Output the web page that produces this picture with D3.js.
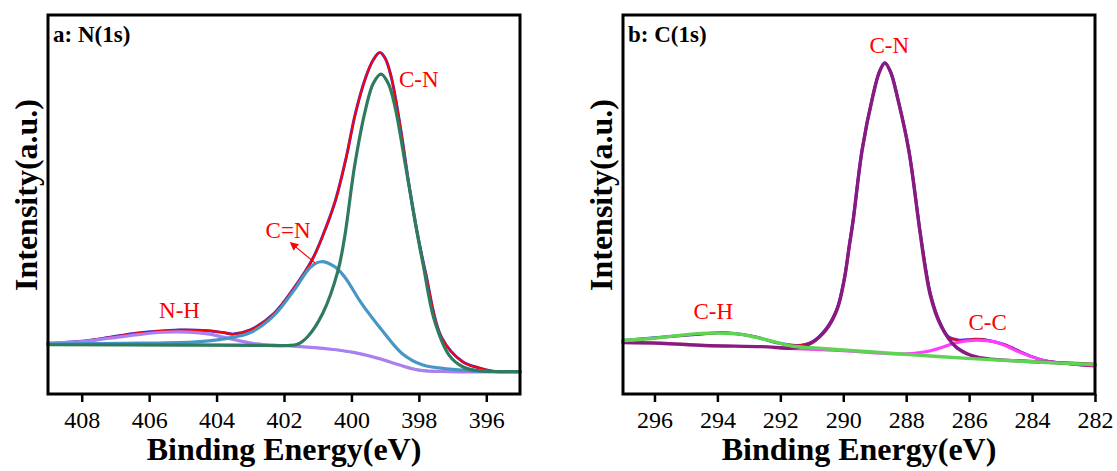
<!DOCTYPE html>
<html>
  <head>
    <meta charset="utf-8">
    <title>XPS N(1s) and C(1s)</title>
    <script src="https://cdn.jsdelivr.net/npm/d3@7"></script>
    <style>
      body { margin: 0; background: #fff; }
      svg { display: block; font-family: "Liberation Serif", "Times New Roman", serif; }
      .frame { fill: none; stroke: #000; stroke-width: 3; }
      .axis path { display: none; }
      .axis line { stroke: #000; stroke-width: 2.5; }
      .axis text { font-size: 24px; fill: #000; font-family: "Liberation Serif", serif; }
      .title { font-size: 32px; font-weight: bold; fill: #000; }
      .panelLabel { font-size: 23px; font-weight: bold; fill: #000; }
      .peakLabel { font-size: 23px; fill: #ff0000; }
      .curve { fill: none; stroke-linejoin: round; stroke-linecap: round; }
    </style>
  </head>

  <body>
    <svg id="chart" width="1117" height="471"></svg>

    <script>
      // ---- panel a: N(1s), points read as [binding energy, intensity]
      ticksA = [408, 406, 404, 402, 400, 398, 396];

      bgA = [[409, 13.3], [407, 13.2], [405, 13.1], [403, 13.0], [402, 12.8], [401.5, 12.5],
        [401, 12.1], [400.6, 11.8], [400, 11.0], [399.5, 10.1], [399.2, 9.4], [398.6, 7.7],
        [398, 6.4], [397.5, 6.0], [397, 5.9], [395, 5.9]];

      nhA = [[409, 13.4], [408, 13.8], [407.2, 14.7], [406.2, 15.8], [405.6, 16.3], [405.1, 16.4],
        [404.6, 16.2], [404.2, 15.8], [403.8, 15.0], [403.4, 14.2], [402.9, 13.3], [402.3, 12.9],
        [401.5, 12.5], [400.6, 11.8], [399.9, 10.9], [399.2, 9.4], [398.6, 7.7], [398, 6.3],
        [397.1, 5.9], [395, 5.9]];

      cnDoubleA = [[409, 13.2], [406.2, 13.4], [404.5, 13.8], [403.5, 15.0], [403, 16.2],
        [402.3, 20.7], [401.7, 27.4], [401.2, 33.6], [400.9, 34.9], [400.5, 33.6], [400.2, 30.9],
        [399.7, 23.9], [399.1, 16.9], [398.5, 10.7], [397.9, 7.7], [397, 6.5], [396, 6.0], [395, 5.9]];

      cnA = [[409, 13.0], [405, 12.9], [402.5, 12.8], [401.9, 12.8], [401.6, 13.1], [401.3, 15.1],
        [400.85, 21.3], [400.4, 32.5], [400.2, 41.5], [399.9, 60.5], [399.57, 75.5], [399.35, 82.0],
        [399.12, 84.4], [398.9, 81.8], [398.7, 75.5], [398.4, 60.5], [398.07, 43.5], [397.86, 33.5],
        [397.54, 19.5], [397.1, 10.2], [396.7, 7.2], [396.3, 6.2], [395.5, 5.9], [395, 5.9]];

      envA = [[409, 13.3], [408, 13.9], [407.2, 14.9], [406.5, 15.9], [405.95, 16.4], [405.1, 16.9],
        [404.25, 16.7], [403.8, 16.2], [403.5, 15.8], [403, 16.9], [402.3, 21.2], [401.7, 28.0],
        [401.16, 35.5], [400.84, 42.0], [400.47, 51.2], [400.15, 62.6], [399.88, 74.1],
        [399.57, 83.7], [399.35, 88.2], [399.16, 90.1], [399, 88.6], [398.82, 83.7], [398.55, 70.5],
        [398.29, 55.0], [398.07, 43.5], [397.8, 32.0], [397.33, 15.0], [396.7, 8.5], [396.26, 7.0],
        [395.8, 6.0], [395, 5.9]];

      labelsA = [
        { text: "C-N", e: 398.0, v: 80.9 },
        { text: "C=N", e: 401.88, v: 41.2 },
        { text: "N-H", e: 405.1, v: 20.1 }
      ];
      arrowA = [[401.08, 34.6], [401.79, 39.8]];

      // ---- panel b: C(1s)
      ticksB = [296, 294, 292, 290, 288, 286, 284, 282];

      chB = [[297, 14.1], [296, 14.7], [295.3, 15.4], [294.5, 16.0], [294, 16.1], [293.3, 15.8],
        [292.8, 15.0], [292.2, 13.8], [291.6, 12.6], [291, 12.2], [290, 11.6], [288.4, 10.7],
        [287, 9.9], [285.2, 9.0], [283.5, 8.3], [282, 7.8]];

      cnB = [[297, 13.6], [295.8, 13.4], [294.4, 12.8], [292.6, 12.5], [291.6, 12.1], [291.3, 12.5],
        [291, 13.5], [290.55, 16.9], [290.2, 22.2], [289.97, 30.1], [289.8, 39.5], [289.69, 45.5],
        [289.4, 64.4], [289.06, 78.6], [288.85, 85.0], [288.68, 87.3], [288.5, 85.0], [288.26, 77.6],
        [287.92, 64.4], [287.63, 47.0], [287.57, 43.3], [287.23, 25.9], [286.89, 17.9], [286.43, 12.5],
        [285.97, 10.3], [285.5, 9.4], [285, 9.0], [282, 7.8]];

      ccB = [[292, 12.1], [290, 11.4], [288.4, 10.6], [287.8, 10.7], [287.33, 11.2],
        [286.9, 12.2], [286.48, 13.4], [286.1, 14.0], [285.74, 14.2], [285.2, 13.8], [284.8, 12.6],
        [284.36, 10.9], [283.6, 8.8], [283, 8.1], [282.2, 7.7], [282, 7.6]];

      envB = [[297, 14.1], [295.6, 15.1], [294.2, 16.0], [293.9, 16.2], [292.8, 15.1], [292.15, 13.6],
        [291.46, 12.8], [291, 13.7], [290.55, 17.2], [290.2, 22.5], [289.97, 30.3], [289.8, 39.7],
        [289.69, 45.7], [289.4, 64.5], [289.06, 78.7], [288.85, 85.1], [288.68, 87.4], [288.5, 85.1],
        [288.26, 77.7], [287.92, 64.5], [287.63, 47.2], [287.57, 43.5], [287.23, 26.5], [286.95, 19.3],
        [286.66, 15.1], [286.32, 14.2], [285.9, 14.4], [285.6, 14.4], [285.2, 13.8], [284.83, 12.9],
        [284.26, 10.7], [283.7, 9.0], [283, 8.1], [282, 7.4]];

      labelsB = [
        { text: "C-N", e: 288.54, v: 89.9 },
        { text: "C-H", e: 294.13, v: 19.8 },
        { text: "C-C", e: 285.41, v: 16.9 }
      ];

      svg = d3.select("#chart");

      svg.append("defs").append("marker")
        .attr("id", "arrowHead")
        .attr("viewBox", "0 0 10 10")
        .attr("refX", 8).attr("refY", 5)
        .attr("markerWidth", 7).attr("markerHeight", 7)
        .attr("orient", "auto")
        .append("path")
          .attr("d", "M0,0 L10,5 L0,10 z")
          .attr("fill", "#ff0000");

      function drawPanel(p) {
        x = d3.scaleLinear().domain(p.domain).range([p.left, p.right]);
        y = d3.scaleLinear().domain([0, 100]).range([394, 15]);
        line = d3.line()
          .x(function(d) { return x(d[0]); })
          .y(function(d) { return y(d[1]); })
          .curve(d3.curveCatmullRom.alpha(0.5));

        g = svg.append("g");

        // curves, in drawing order
        p.series.forEach(function(s) {
          g.append("path")
            .datum(s.data)
            .attr("class", "curve")
            .attr("stroke", s.color)
            .attr("stroke-width", s.width)
            .attr("d", line);
        });

        // frame + axis
        g.append("rect")
          .attr("class", "frame")
          .attr("x", p.left).attr("y", 15)
          .attr("width", p.right - p.left).attr("height", 394 - 15);

        g.append("g")
          .attr("class", "axis")
          .attr("transform", "translate(0,394)")
          .call(d3.axisBottom(x).tickValues(p.ticks).tickSize(8).tickPadding(9));

        // titles
        g.append("text")
          .attr("class", "title")
          .attr("x", (p.left + p.right) / 2)
          .attr("y", 460)
          .attr("text-anchor", "middle")
          .text("Binding Energy(eV)");
        g.append("text")
          .attr("class", "title")
          .attr("transform", "translate(" + (p.left - 11) + ",195) rotate(-90)")
          .attr("text-anchor", "middle")
          .text("Intensity(a.u.)");

        g.append("text")
          .attr("class", "panelLabel")
          .attr("x", p.left + 5)
          .attr("y", 42)
          .text(p.label);

        g.selectAll(".peakLabel")
          .data(p.labels)
          .enter().append("text")
            .attr("class", "peakLabel")
            .attr("text-anchor", "middle")
            .attr("x", function(d) { return x(d.e); })
            .attr("y", function(d) { return y(d.v); })
            .text(function(d) { return d.text; });

        if (p.arrow) {
          g.append("path")
            .datum(p.arrow)
            .attr("fill", "none")
            .attr("stroke", "#ff0000")
            .attr("stroke-width", 1.2)
            .attr("marker-end", "url(#arrowHead)")
            .attr("d", d3.line().x(function(d) { return x(d[0]); }).y(function(d) { return y(d[1]); }));
        }
      }

      drawPanel({
        domain: [409, 395], left: 48, right: 520, ticks: ticksA, label: "a: N(1s)",
        labels: labelsA, arrow: arrowA,
        series: [
          { data: bgA, color: "#33dd33", width: 2 },
          { data: envA, color: "#1f3cff", width: 3 },
          { data: envA, color: "#ff0000", width: 2.2 },
          { data: nhA, color: "#a97ff2", width: 3.2 },
          { data: cnDoubleA, color: "#4797c6", width: 3.2 },
          { data: cnA, color: "#2f7b5e", width: 3.2 }
        ]
      });

      drawPanel({
        domain: [297, 282], left: 623, right: 1095, ticks: ticksB, label: "b: C(1s)",
        labels: labelsB, arrow: null,
        series: [
          { data: envB, color: "#1f3cff", width: 3 },
          { data: envB, color: "#ff0000", width: 2.2 },
          { data: ccB, color: "#ff3cff", width: 3 },
          { data: cnB, color: "#8b1a80", width: 3.4 },
          { data: chB, color: "#5fd454", width: 3.4 }
        ]
      });
    </script>
  </body>
</html>
